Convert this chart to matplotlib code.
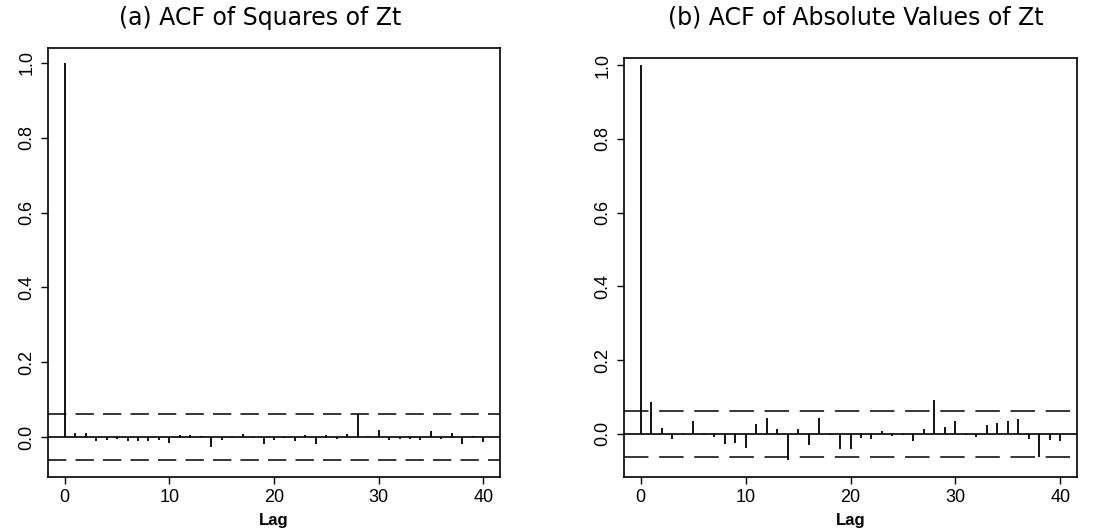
import matplotlib
matplotlib.use("Agg")
import matplotlib.pyplot as plt
import numpy as np
from matplotlib import font_manager

names = {f.name for f in font_manager.fontManager.ttflist}
tick_font = "Liberation Sans Narrow" if "Liberation Sans Narrow" in names else "Liberation Sans"

lags = list(range(0, 41))
acf_sq = [1.0, 0.011, 0.010, -0.012, -0.009, -0.005, -0.012, -0.010, -0.012, -0.009,
          -0.016, 0.005, 0.004, 0.002, -0.027, -0.008, -0.004, 0.009, -0.003, -0.020,
          -0.009, -0.003, -0.012, 0.004, -0.018, 0.004, -0.005, 0.007, 0.061, 0.002,
          0.018, -0.009, -0.005, -0.005, -0.008, 0.015, -0.005, 0.011, -0.020, 0.002,
          -0.013]
acf_abs = [1.0, 0.087, 0.015, -0.015, -0.002, 0.036, -0.002, -0.008, -0.028, -0.026,
           -0.038, 0.028, 0.043, 0.014, -0.071, 0.012, -0.031, 0.042, -0.003, -0.040,
           -0.042, -0.010, -0.015, 0.007, -0.006, -0.004, -0.020, 0.014, 0.093, 0.019,
           0.034, -0.002, -0.008, 0.025, 0.030, 0.035, 0.039, -0.013, -0.064, -0.017,
           -0.020]
ci_sq = 0.0615
ci_abs = 0.062
titles = ["(a) ACF of Squares of Zt", "(b) ACF of Absolute Values of Zt"]
xticks = [0, 10, 20, 30, 40]
yticks = [0.0, 0.2, 0.4, 0.6, 0.8, 1.0]
ytick_labels = ["0.0", "0.2", "0.4", "0.6", "0.8", "1.0"]

W, H = 1102, 530
fig = plt.figure(figsize=(W / 100, H / 100), dpi=100)

def px_axes(l, t, r, b):
    return fig.add_axes([l / W, 1 - b / H, (r - l) / W, (b - t) / H])

panels = [
    (px_axes(48, 48, 500, 477), acf_sq, ci_sq, (-0.107, 1.040), (12, 6), 260),
    (px_axes(624, 58, 1077, 477), acf_abs, ci_abs, (-0.117, 1.019), (16, 7), 856),
]

for (ax, vals, ci, ylim, dash, tx), title in zip(panels, titles):
    ax.vlines(lags, 0, vals, color="black", lw=1.3)
    ax.axhline(0, color="black", lw=1.2)
    for c in (ci, -ci):
        ax.axhline(c, color="black", lw=1.1, dashes=dash)
    ax.set_xlim(-1.6, 41.6)
    ax.set_ylim(*ylim)
    ax.set_xticks(xticks)
    ax.set_xticklabels([str(x) for x in xticks], fontsize=13, family="Liberation Sans")
    ax.set_yticks(yticks)
    ax.set_yticklabels(ytick_labels, fontsize=13, family=tick_font, rotation=90,
                       va="center")
    ax.tick_params(direction="out", length=5, width=1, pad=4, colors="black")
    for s in ax.spines.values():
        s.set_linewidth(1.2)
    ax.set_xlabel("Lag", fontsize=12, family="Liberation Sans", fontweight="bold",
                  labelpad=5)
    fig.text(tx / W, 1 - 18 / H, title, fontsize=17, family="DejaVu Sans",
             ha="center", va="center")

fig.savefig("out.png", dpi=100)
